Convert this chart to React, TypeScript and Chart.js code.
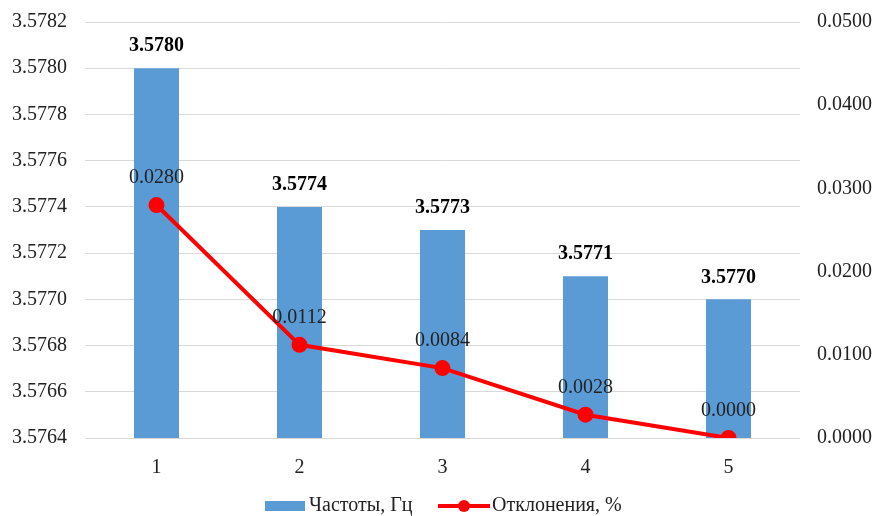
import React, { useEffect, useRef } from "react";
import { Chart, registerables } from "chart.js";

Chart.register(...registerables);

const categories = ["1", "2", "3", "4", "5"];
const frequencies = [3.578, 3.5774, 3.5773, 3.5771, 3.577];
const deviations = [0.028, 0.0112, 0.0084, 0.0028, 0.0];
const seriesNames = ["Частоты, Гц", "Отклонения, %"];

const FONT = '"Liberation Serif", "Times New Roman", serif';
const BLUE = "#5B9BD5";
const RED = "#FF0000";

const labelsPlugin = {
  id: "customLabels",
  afterDatasetsDraw(chart: any) {
    const ctx = chart.ctx;
    ctx.save();
    ctx.textAlign = "center";
    ctx.textBaseline = "middle";
    const barMeta = chart.getDatasetMeta(0);
    ctx.font = `bold 20px ${FONT}`;
    ctx.fillStyle = "#000";
    barMeta.data.forEach((el: any, i: number) => {
      ctx.fillText(frequencies[i].toFixed(4), el.x, el.y - 22);
    });
    const lineMeta = chart.getDatasetMeta(1);
    ctx.font = `20px ${FONT}`;
    ctx.fillStyle = "#222";
    lineMeta.data.forEach((el: any, i: number) => {
      ctx.fillText(deviations[i].toFixed(4), el.x, el.y - 27);
    });
    ctx.restore();
  },
  afterDraw(chart: any) {
    const ctx = chart.ctx;
    ctx.save();
    const y = 506;
    ctx.fillStyle = BLUE;
    ctx.fillRect(265, y - 5, 40, 10);
    ctx.font = `20px ${FONT}`;
    ctx.fillStyle = "#222";
    ctx.textAlign = "left";
    ctx.textBaseline = "middle";
    ctx.fillText(seriesNames[0], 309, y);
    ctx.strokeStyle = RED;
    ctx.lineWidth = 4;
    ctx.beginPath();
    ctx.moveTo(438, y);
    ctx.lineTo(490, y);
    ctx.stroke();
    ctx.fillStyle = RED;
    ctx.beginPath();
    ctx.arc(464, y, 6, 0, Math.PI * 2);
    ctx.fill();
    ctx.fillStyle = "#222";
    ctx.fillText(seriesNames[1], 492, y);
    ctx.restore();
  },
};

export default function App() {
  const ref = useRef<HTMLCanvasElement>(null);
  useEffect(() => {
    if (!ref.current) return;
    const chart = new Chart(ref.current, {
      type: "bar",
      data: {
        labels: categories,
        datasets: [
          {
            type: "bar",
            label: seriesNames[0],
            data: frequencies,
            backgroundColor: BLUE,
            yAxisID: "y",
            categoryPercentage: 1,
            barPercentage: 0.315,
            order: 2,
          },
          {
            type: "line",
            label: seriesNames[1],
            data: deviations,
            borderColor: RED,
            backgroundColor: RED,
            borderWidth: 4,
            pointRadius: 6,
            pointBackgroundColor: RED,
            pointBorderColor: RED,
            yAxisID: "y1",
            order: 1,
          } as any,
        ],
      },
      options: {
        animation: false,
        responsive: false,
        layout: { padding: { top: 22, bottom: 33, left: 0, right: 0 } },
        plugins: { legend: { display: false }, tooltip: { enabled: false } },
        scales: {
          x: {
            offset: true,
            grid: { display: false, drawTicks: false },
            border: { display: false },
            ticks: { font: { family: FONT, size: 20 }, color: "#222", padding: 18 },
            afterFit: (s: any) => { s.height = 45; s.paddingLeft = 0; s.paddingRight = 0; },
          },
          y: {
            position: "left",
            min: 3.5764,
            max: 3.5782,
            ticks: {
              stepSize: 0.0002,
              padding: 18,
              font: { family: FONT, size: 20 },
              color: "#222",
              callback: (v: any) => Number(v).toFixed(4),
            },
            grid: { color: "#d9d9d9", lineWidth: 1, drawTicks: false },
            border: { display: false },
            afterFit: (s: any) => { s.width = 85; s.paddingTop = 0; s.paddingBottom = 0; },
          },
          y1: {
            position: "right",
            min: 0,
            max: 0.05,
            ticks: {
              stepSize: 0.01,
              padding: 17,
              font: { family: FONT, size: 20 },
              color: "#222",
              callback: (v: any) => Number(v).toFixed(4),
            },
            grid: { display: false, drawTicks: false },
            border: { display: false },
            afterFit: (s: any) => { s.width = 78; s.paddingTop = 0; s.paddingBottom = 0; },
          },
        },
      },
      plugins: [labelsPlugin],
    });
    return () => chart.destroy();
  }, []);
  return (
    <div style={{ position: "fixed", left: 0, top: 0, width: 878, height: 516, background: "#fff" }}>
      <canvas ref={ref} width={878} height={516} />
    </div>
  );
}
